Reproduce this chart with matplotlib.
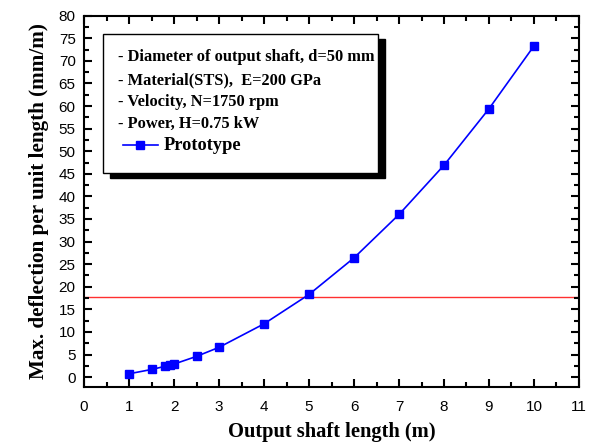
import numpy as np
import matplotlib.pyplot as plt
from matplotlib.patches import Rectangle
from matplotlib.lines import Line2D
from matplotlib.ticker import MultipleLocator

# Data
length = [1.0, 1.5, 1.8, 1.9, 2.0, 2.5, 3.0, 4.0, 5.0, 6.0, 7.0, 8.0, 9.0, 10.0]
deflection = [0.75, 1.7, 2.4, 2.65, 2.9, 4.6, 6.6, 11.8, 18.3, 26.4, 36.0, 46.9, 59.4, 73.3]
limit = 17.7
notes = ['- Diameter of output shaft, d=50 mm',
         '- Material(STS),  E=200 GPa',
         '- Velocity, N=1750 rpm',
         '- Power, H=0.75 kW']

serif = 'Liberation Serif'
sans = 'Liberation Sans'

fig = plt.figure(figsize=(5.92, 4.47), dpi=100)
ax = fig.add_axes([0.142, 0.134, 0.836, 0.831])

ax.axhline(limit, color='#ff3030', lw=1.0, zorder=1)
ax.plot(length, deflection, '-s', color='blue', lw=1.2, ms=6, zorder=3,
        label='Prototype')

ax.set_xlim(0, 11)
ax.set_ylim(-2.2, 80)
ax.xaxis.set_major_locator(MultipleLocator(1))
ax.xaxis.set_minor_locator(MultipleLocator(0.5))
ax.yaxis.set_major_locator(MultipleLocator(5))
ax.yaxis.set_minor_locator(MultipleLocator(2.5))
ax.tick_params(which='both', direction='in', top=True, right=True, width=1.5)
ax.tick_params(which='major', length=6)
ax.tick_params(which='minor', length=3.5)
ax.tick_params(labelsize=11)
ax.tick_params(axis='x', pad=9)
ax.tick_params(axis='y', pad=6)
for lab in ax.get_xticklabels() + ax.get_yticklabels():
    lab.set_family(sans)
for s in ax.spines.values():
    s.set_linewidth(1.5)

ax.set_xlabel('Output shaft length (m)', family=serif, fontweight='bold',
              fontsize=14.8, labelpad=6)
ax.set_ylabel('Max. deflection per unit length (mm/m)', family=serif,
              fontweight='bold', fontsize=15.2, labelpad=7)

# legend box with drop shadow
bx, by, bw, bh = 0.038, 0.576, 0.556, 0.374
ax.add_patch(Rectangle((bx + 0.014, by - 0.014), bw, bh, transform=ax.transAxes,
                       facecolor='black', edgecolor='black', zorder=4))
ax.add_patch(Rectangle((bx, by), bw, bh, transform=ax.transAxes,
                       facecolor='white', edgecolor='black', lw=1.0, zorder=5))
ys = [0.890, 0.826, 0.767, 0.709, 0.651]
for t, y in zip(notes, ys):
    ax.text(0.069, y, t, transform=ax.transAxes, family=serif,
            fontweight='bold', fontsize=11.8, va='center', zorder=6)
ax.add_line(Line2D([0.079, 0.149], [ys[-1], ys[-1]], transform=ax.transAxes,
                   color='blue', lw=1.2, zorder=6))
ax.add_line(Line2D([0.114], [ys[-1]], transform=ax.transAxes, marker='s',
                   color='blue', ms=6, zorder=6))
ax.text(0.160, ys[-1], 'Prototype', transform=ax.transAxes, family=serif,
        fontweight='bold', fontsize=13.2, va='center', zorder=6)

fig.savefig('out.png', dpi=100)
